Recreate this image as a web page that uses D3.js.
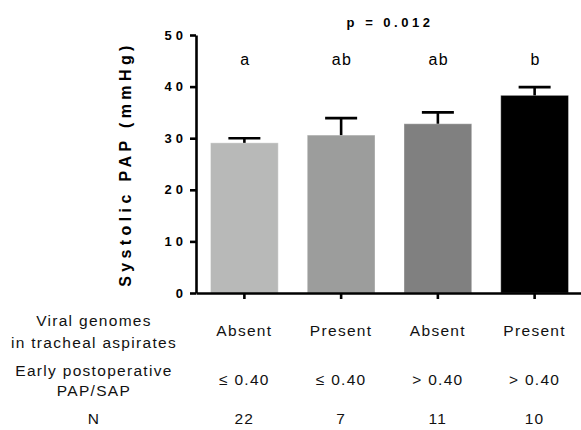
<!DOCTYPE html>
<html>
<head>
<meta charset="utf-8">
<script src="https://cdn.jsdelivr.net/npm/d3@7"></script>
<style>
  body { margin: 0; background: #fff; }
  svg { display: block; font-family: Arial, "Liberation Sans", sans-serif; }
  .tick-label { font-weight: bold; font-size: 13px; letter-spacing: 4px; }
  .row-text { font-size: 15.5px; letter-spacing: 1.3px; fill: #111; }
</style>
</head>
<body>
<svg width="581" height="430"></svg>
<script>
// groups and values
var groups = ['G1', 'G2', 'G3', 'G4'];
var meanPAP = [29.1, 30.6, 32.8, 38.3];
var semPAP = [0.9, 3.3, 2.2, 1.6];
var sigLetters = ['a', 'ab', 'ab', 'b'];
var viralGenomes = ['Absent', 'Present', 'Absent', 'Present'];
var papSapRatio = ['\u2264 0.40', '\u2264 0.40', '> 0.40', '> 0.40'];
var nCount = ['22', '7', '11', '10'];
var yTicks = [0, 10, 20, 30, 40, 50];
var barColors = ['#b8b9b8', '#9c9d9c', '#808080', '#000000'];

var svg = d3.select('svg');

var padding = { t: 35, r: -2, b: 137, l: 196 };
var svgWidth = +svg.attr('width');
var svgHeight = +svg.attr('height');

var xScale = d3.scaleBand()
    .domain(groups)
    .range([padding.l, svgWidth - padding.r])
    .paddingInner(0.3)
    .paddingOuter(0.15);

var yScale = d3.scaleLinear()
    .domain([0, 50])
    .range([svgHeight - padding.b, padding.t]);

var data = groups.map(function (g, i) {
    return { group: g, mean: meanPAP[i], sem: semPAP[i], letter: sigLetters[i], color: barColors[i] };
});

// bars
svg.selectAll('.bar')
    .data(data)
    .enter()
    .append('rect')
    .attr('class', 'bar')
    .attr('x', d => xScale(d.group))
    .attr('y', d => yScale(d.mean))
    .attr('width', xScale.bandwidth())
    .attr('height', d => yScale(0) - yScale(d.mean))
    .attr('fill', d => d.color)
    .attr('stroke', 'rgba(255,255,255,0.35)')
    .attr('stroke-width', 1);

// error bars (upper only)
var capHalf = 16;
var errG = svg.selectAll('.err')
    .data(data)
    .enter()
    .append('g')
    .attr('class', 'err')
    .attr('stroke', '#000')
    .attr('stroke-width', 2.6);

errG.append('line')
    .attr('x1', d => xScale(d.group) + xScale.bandwidth() / 2)
    .attr('x2', d => xScale(d.group) + xScale.bandwidth() / 2)
    .attr('y1', d => yScale(d.mean))
    .attr('y2', d => yScale(d.mean + d.sem));

errG.append('line')
    .attr('x1', d => xScale(d.group) + xScale.bandwidth() / 2 - capHalf)
    .attr('x2', d => xScale(d.group) + xScale.bandwidth() / 2 + capHalf)
    .attr('y1', d => yScale(d.mean + d.sem))
    .attr('y2', d => yScale(d.mean + d.sem));

// y axis
var yAxis = d3.axisLeft(yScale)
    .tickValues(yTicks)
    .tickSize(6)
    .tickPadding(3)
    .tickSizeOuter(0);

var yG = svg.append('g')
    .attr('transform', 'translate(' + padding.l + ',0)')
    .call(yAxis);
yG.select('.domain').attr('stroke-width', 2.6);
yG.selectAll('.tick line').attr('stroke-width', 2.6);
yG.selectAll('.tick text')
    .attr('class', 'tick-label')
    .attr('fill', '#000')
    .attr('font-size', null)
    .attr('font-family', null);

// x axis
var xAxis = d3.axisBottom(xScale)
    .tickSize(6)
    .tickSizeOuter(0)
    .tickFormat('');

var xG = svg.append('g')
    .attr('transform', 'translate(0,' + yScale(0) + ')')
    .call(xAxis);
xG.select('.domain').attr('stroke-width', 2.6);
xG.selectAll('.tick line').attr('stroke-width', 2.6);

// y axis title
svg.append('text')
    .attr('transform', 'translate(131,' + ((yScale(0) + yScale(50)) / 2) + ') rotate(-90)')
    .attr('text-anchor', 'middle')
    .attr('font-weight', 'bold')
    .attr('font-size', 16)
    .attr('letter-spacing', '4.4px')
    .text('Systolic PAP (mmHg)');

// p value
svg.append('text')
    .attr('x', 390)
    .attr('y', 27)
    .attr('text-anchor', 'middle')
    .attr('font-weight', 'bold')
    .attr('font-size', 13)
    .attr('letter-spacing', '3.5px')
    .text('p = 0.012');

// significance letters
svg.selectAll('.sig')
    .data(data)
    .enter()
    .append('text')
    .attr('class', 'sig')
    .attr('x', d => xScale(d.group) + xScale.bandwidth() / 2 + 1)
    .attr('y', 65)
    .attr('text-anchor', 'middle')
    .attr('font-size', 16)
    .attr('letter-spacing', '1.5px')
    .text(d => d.letter);

// table under the chart
var labelX = 94;
var rowLabels = [
    { text: 'Viral genomes', y: 326 },
    { text: 'in tracheal aspirates', y: 347.5 },
    { text: 'Early postoperative', y: 375.5 },
    { text: 'PAP/SAP', y: 396 },
    { text: 'N', y: 424 }
];

svg.selectAll('.row-label')
    .data(rowLabels)
    .enter()
    .append('text')
    .attr('class', 'row-text')
    .attr('x', labelX)
    .attr('y', d => d.y)
    .attr('text-anchor', 'middle')
    .text(d => d.text);

var rows = [
    { values: viralGenomes, y: 336 },
    { values: papSapRatio, y: 385 },
    { values: nCount, y: 424 }
];

rows.forEach(function (row) {
    svg.selectAll(null)
        .data(row.values)
        .enter()
        .append('text')
        .attr('class', 'row-text')
        .attr('x', (d, i) => xScale(groups[i]) + xScale.bandwidth() / 2)
        .attr('y', row.y)
        .attr('text-anchor', 'middle')
        .text(d => d);
});
</script>
</body>
</html>
